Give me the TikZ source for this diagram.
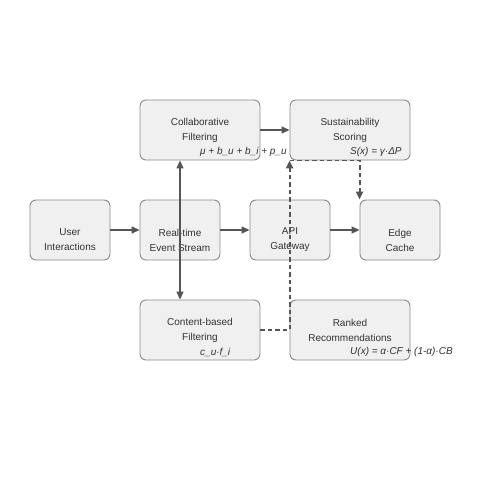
\documentclass[tikz,border=0pt]{standalone}
\usepackage{fontspec}
\setmainfont{Liberation Sans}
\usetikzlibrary{arrows.meta}
\definecolor{boxfill}{HTML}{F0F0F0}
\definecolor{boxline}{HTML}{8A8A8A}
\definecolor{conn}{HTML}{555555}
\definecolor{txt}{HTML}{333333}
\begin{document}
\begin{tikzpicture}[x=1pt,y=-1pt,
  box/.style={draw=boxline,fill=boxfill,line width=0.9pt,rounded corners=6pt,inner sep=0pt},
  sbox/.style={box,minimum width=80pt,minimum height=60pt},
  wbox/.style={box,minimum width=120pt,minimum height=60pt},
  lbl/.style={text=txt,font=\fontsize{10}{15}\selectfont,align=center,inner sep=0pt},
  frm/.style={text=txt,font=\fontsize{10}{12}\selectfont\itshape,anchor=west,inner sep=0pt},
  arr/.style={draw=conn,line width=1.4pt,-{Triangle[length=8pt,width=7pt]}},
  darr/.style={arr,line width=1.9pt,dash pattern=on 4.5pt off 3pt}
]
\useasboundingbox (0,0) rectangle (500,500);
\fill[white] (0,0) rectangle (500,500);
% boxes
\node[sbox] (ui) at (70,230) {};
\node[sbox] (ev) at (180,230) {};
\node[sbox] (api) at (290,230) {};
\node[sbox] (edge) at (400,230) {};
\node[wbox] (cf) at (200,130) {};
\node[wbox] (sus) at (350,130) {};
\node[wbox] (cb) at (200,330) {};
\node[wbox] (rr) at (350,330) {};
% texts
\node[lbl] (uit) at ([yshift=-10pt]ui.center) {User\\Interactions};
\node[lbl] (evt) at ([yshift=-10pt]ev.center) {Real-time\\Event Stream};
\node[lbl] (apit) at ([yshift=-10pt]api.center) {API\\Gateway};
\node[lbl] (edget) at ([yshift=-10pt]edge.center) {Edge\\Cache};
\node[lbl] (cft) at ([yshift=-0.5pt]cf.center) {Collaborative\\Filtering};
\node[lbl] (sust) at ([yshift=-0.5pt]sus.center) {Sustainability\\Scoring};
\node[lbl] (cbt) at ([yshift=-0.5pt]cb.center) {Content-based\\Filtering};
\node[lbl] (rrt) at ([yshift=-0.5pt]rr.center) {Ranked\\Recommendations};
% formulas
\node[frm] (cff) at ([yshift=-22pt]cf.center) {μ + b\_u + b\_i + p\_u};
\node[frm] (susf) at ([yshift=-22pt]sus.center) {S(x) = γ·ΔP};
\node[frm] (cbf) at ([yshift=-22pt]cb.center) {c\_u·f\_i};
\node[frm] (rrf) at ([yshift=-22pt]rr.center) {U(x) = α·CF + (1-α)·CB};
% connectors
\draw[arr] (ui.east) -- (ev.west);
\draw[arr] (ev.east) -- (api.west);
\draw[arr] (api.east) -- (edge.west);
\draw[arr] (cf.east) -- (sus.west);
\draw[arr] (ev.center) -- (ev.center |- cf.south);
\draw[arr] (ev.center) -- (ev.center |- cb.north);
\draw[darr] (cb.east) -| (sus.south west);
\draw[darr] (sus.south west) -| (edge.north west);
\end{tikzpicture}
\end{document}
